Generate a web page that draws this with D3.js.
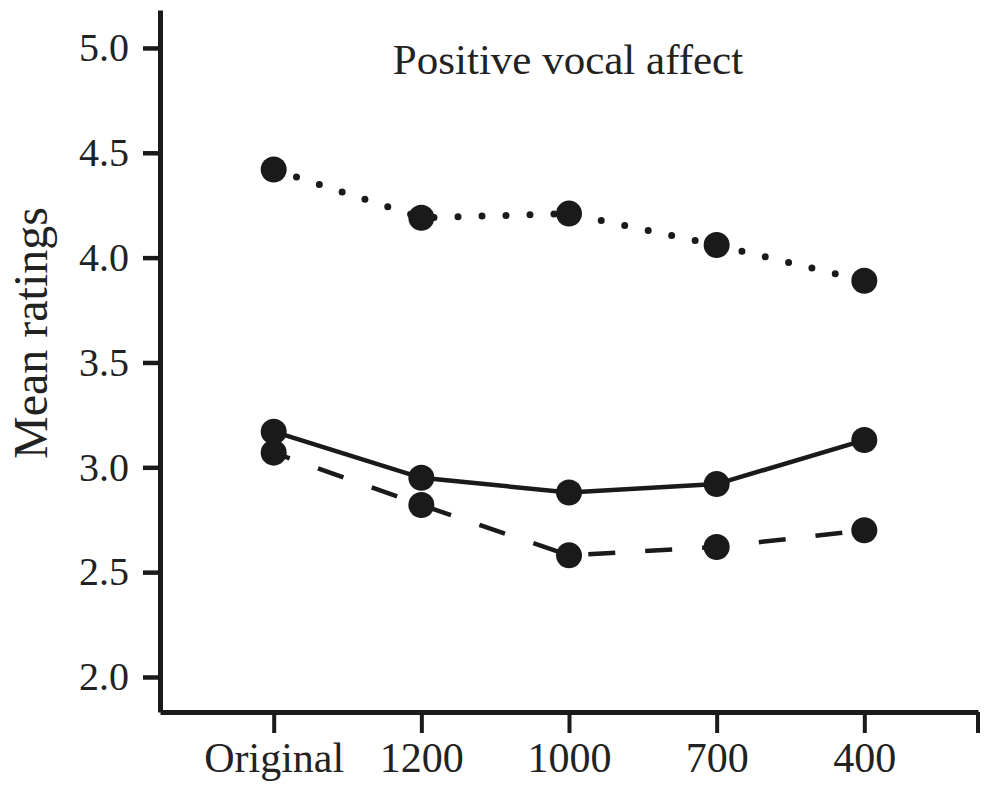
<!DOCTYPE html>
<html>
<head>
<meta charset="utf-8">
<script src="https://cdn.jsdelivr.net/npm/d3@7"></script>
<style>
  html, body { margin: 0; padding: 0; background: #fff; }
  svg text { font-family: "Liberation Serif", "Times New Roman", "DejaVu Serif", serif; fill: #222; }
</style>
</head>
<body>
<svg id="chart" width="986" height="785"></svg>
<script>
const categories = ["Original", "1200", "1000", "700", "400"];
const dottedSeries = [4.42, 4.19, 4.21, 4.06, 3.89];
const solidSeries  = [3.17, 2.95, 2.88, 2.92, 3.13];
const dashedSeries = [3.07, 2.82, 2.58, 2.62, 2.70];
const yTicks = [2.0, 2.5, 3.0, 3.5, 4.0, 4.5, 5.0];
const titleText = "Positive vocal affect";
const yLabel = "Mean ratings";

const svg = d3.select("#chart");
const x = d3.scalePoint().domain(categories).range([160, 978]).padding(0.77);
const y = d3.scaleLinear().domain([1.833, 5.181]).range([712, 10]);

// Axes
const yAxis = d3.axisLeft(y).tickValues(yTicks).tickFormat(d3.format(".1f")).tickSize(17).tickSizeOuter(0).tickPadding(14);
const gy = svg.append("g").attr("transform", "translate(160,0)").call(yAxis);
gy.select(".domain").attr("stroke", "#1a1a1a").attr("stroke-width", 5);
gy.selectAll(".tick line").attr("stroke", "#1a1a1a").attr("stroke-width", 4.5);
gy.selectAll(".tick text").style("font-size", "40px").attr("fill", "#222");

const xAxis = d3.axisBottom(x).tickSize(21).tickSizeOuter(0).tickPadding(9);
const gx = svg.append("g").attr("transform", "translate(0,712)").call(xAxis);
gx.select(".domain").attr("stroke", "#1a1a1a").attr("stroke-width", 5);
gx.selectAll(".tick line").attr("stroke", "#1a1a1a").attr("stroke-width", 4);
gx.selectAll(".tick text").style("font-size", "42px").attr("fill", "#222");
// right-end outer tick
gx.append("line")
  .attr("x1", x.range()[1]).attr("x2", x.range()[1])
  .attr("y1", 0).attr("y2", 21)
  .attr("stroke", "#1a1a1a").attr("stroke-width", 4);

// Lines
const line = d3.line().x((d, i) => x(categories[i])).y(d => y(d));
svg.append("path").datum(dottedSeries).attr("d", line)
  .attr("fill", "none").attr("stroke", "#1a1a1a").attr("stroke-width", 7)
  .attr("stroke-linecap", "round").attr("stroke-dasharray", "0,24");
svg.append("path").datum(solidSeries).attr("d", line)
  .attr("fill", "none").attr("stroke", "#1a1a1a").attr("stroke-width", 4.5);
svg.append("path").datum(dashedSeries).attr("d", line)
  .attr("fill", "none").attr("stroke", "#1a1a1a").attr("stroke-width", 4.5)
  .attr("stroke-dasharray", "27,30").attr("stroke-dashoffset", 10);

// Markers
[dottedSeries, solidSeries, dashedSeries].forEach(series => {
  svg.append("g").selectAll("circle").data(series).join("circle")
    .attr("cx", (d, i) => x(categories[i]))
    .attr("cy", d => y(d))
    .attr("r", 13)
    .attr("fill", "#1a1a1a");
});

// Title
svg.append("text").attr("x", 568).attr("y", 74).attr("text-anchor", "middle")
  .style("font-size", "43px").text(titleText);

// Y label
svg.append("text").attr("transform", "translate(47,333) rotate(-90)")
  .attr("text-anchor", "middle").style("font-size", "48px").text(yLabel);
</script>
</body>
</html>
